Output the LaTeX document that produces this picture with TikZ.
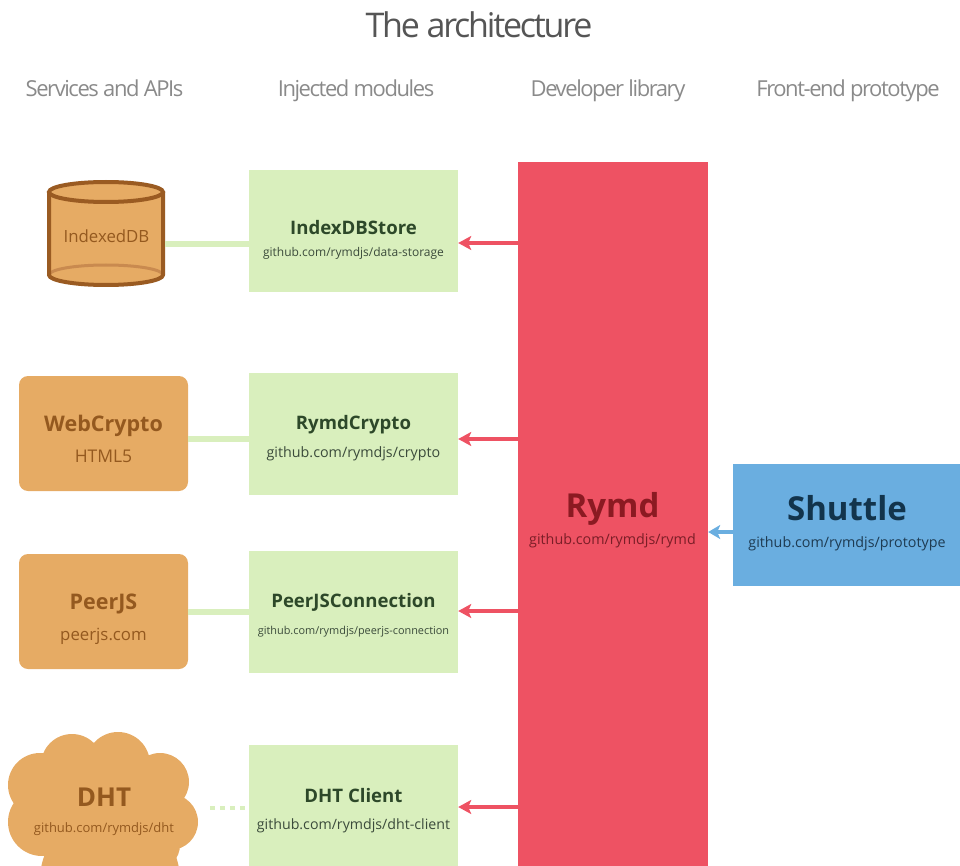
\documentclass[tikz,border=0pt]{standalone}
\usepackage{fontspec}
\setmainfont{Open Sans}
\newfontfamily\tightfont[LetterSpace=-6.5]{Open Sans}
\usetikzlibrary{arrows.meta}
\definecolor{titlegray}{HTML}{555555}
\definecolor{hdrgray}{HTML}{8A8A8A}
\definecolor{modfill}{HTML}{D9EFBD}
\definecolor{modtext}{HTML}{2D4829}
\definecolor{modsub}{HTML}{3B4B3B}
\definecolor{libfill}{HTML}{EE5263}
\definecolor{libtext}{HTML}{8B1A22}
\definecolor{libsub}{HTML}{7A1E27}
\definecolor{protofill}{HTML}{6AAEE0}
\definecolor{prototext}{HTML}{12344C}
\definecolor{protosub}{HTML}{1E3B52}
\definecolor{svcfill}{HTML}{E6AB64}
\definecolor{svctext}{HTML}{94591F}
\definecolor{cylstroke}{HTML}{9A5B22}
\definecolor{cylinner}{HTML}{C98A4F}
\tikzset{
  hdr/.style={font=\tightfont\fontsize{22}{26}\selectfont, text=hdrgray, anchor=base},
  modbox/.style={rectangle, fill=modfill, minimum width=209pt, inner sep=0pt},
  modtitle/.style={font=\bfseries\fontsize{18.6}{22}\selectfont, text=modtext, anchor=base},
  modsubt/.style={font=\fontsize{#1}{16}\selectfont, text=modsub, anchor=base},
  svcbox/.style={rectangle, rounded corners=9pt, fill=svcfill, minimum width=169pt, minimum height=115pt, inner sep=0pt},
  svctitle/.style={font=\bfseries\fontsize{21.5}{24}\selectfont, text=svctext, anchor=base},
  svcsub/.style={font=\fontsize{#1}{18}\selectfont, text=svctext, anchor=base},
  wire/.style={draw=modfill, line width=5.5pt},
  redarr/.style={draw=libfill, line width=4.5pt, -{Stealth[length=13pt,width=14pt,inset=3pt]}},
  bluearr/.style={draw=protofill, line width=4.5pt, -{Stealth[length=12pt,width=14pt,inset=3pt]}},
}
\begin{document}
\begin{tikzpicture}[x=1pt,y=-1pt]
\useasboundingbox (0,0) rectangle (960,866);
\clip (0,0) rectangle (960,866);

% title and headers
\node[font=\tightfont\fontsize{34}{40}\selectfont, text=titlegray, anchor=base] (title) at (479,38) {The architecture};
\node[hdr] (h1) at (104.5,97) {Services and APIs};
\node[hdr] (h2) at (356,97) {Injected modules};
\node[hdr] (h3) at (608,97) {Developer library};
\node[hdr] (h4) at (848,97) {Front-end prototype};

% developer library and prototype
\node[rectangle, fill=libfill, minimum width=190pt, minimum height=760pt, inner sep=0pt] (rymd) at (613,542) {};
\node[font=\bfseries\fontsize{33}{36}\selectfont, text=libtext, anchor=base] (rymdt) at (612.5,517) {Rymd};
\node[font=\fontsize{14.3}{16}\selectfont, text=libsub, anchor=base] (rymds) at (612.5,544) {github.com/rymdjs/rymd};

\node[rectangle, fill=protofill, minimum width=228pt, minimum height=122pt, inner sep=0pt] (shuttle) at (847,525) {};
\node[font=\bfseries\fontsize{33}{36}\selectfont, text=prototext, anchor=base] (shuttlet) at (847,520) {Shuttle};
\node[font=\fontsize{14.3}{16}\selectfont, text=protosub, anchor=base] (shuttles) at (847,547) {github.com/rymdjs/prototype};

% injected modules
\node[modbox, minimum height=122pt] (m1) at (353.5,231) {};
\node[modtitle] (m1t) at (353.5,235) {IndexDBStore};
\node[modsubt=12] (m1s) at (353.5,257) {github.com/rymdjs/data-storage};

\node[modbox, minimum height=122pt] (m2) at (353.5,434) {};
\node[modtitle] (m2t) at (353.5,429) {RymdCrypto};
\node[modsubt=14.3] (m2s) at (353.5,457) {github.com/rymdjs/crypto};

\node[modbox, minimum height=122pt] (m3) at (353.5,612) {};
\node[modtitle] (m3t) at (353.5,607) {PeerJSConnection};
\node[modsubt=10.9] (m3s) at (353.5,634) {github.com/rymdjs/peerjs-connection};

\node[modbox, minimum height=160pt] (m4) at (353.5,825) {};
\node[modtitle] (m4t) at (353.5,802) {DHT Client};
\node[modsubt=14.2] (m4s) at (353.5,829) {github.com/rymdjs/dht-client};

% services
% cylinder (IndexedDB)
\fill[svcfill] (49,192) -- (49,275) arc[start angle=180, end angle=360, x radius=57pt, y radius=10pt] -- (163,192) arc[start angle=0, end angle=180, x radius=57pt, y radius=10pt] -- cycle;
\draw[cylinner, line width=3pt] (49,275) arc[start angle=180, end angle=0, x radius=57pt, y radius=10pt];
\draw[cylstroke, line width=4pt, line join=round] (49,192) -- (49,275) arc[start angle=180, end angle=360, x radius=57pt, y radius=10pt] -- (163,192);
\draw[cylstroke, line width=4pt] (106,192) ellipse[x radius=57pt, y radius=10pt];
\node[font=\fontsize{16.8}{18}\selectfont, text=svctext, anchor=base] (idbt) at (106.5,243) {IndexedDB};

\node[svcbox] (wc) at (103.5,433.5) {};
\node[svctitle] (wct) at (103.5,431) {WebCrypto};
\node[svcsub=17.5] (wcs) at (103.5,462) {HTML5};

\node[svcbox] (pj) at (103.5,611.5) {};
\node[svctitle] (pjt) at (103.5,609) {PeerJS};
\node[svcsub=16.8] (pjs) at (103.5,640) {peerjs.com};

% DHT cloud (union of puffs)
\begin{scope}[svcfill]
  \fill (40,785) circle[radius=32pt];
  \fill (42,822) circle[radius=34pt];
  \fill (72,765) circle[radius=31pt];
  \fill (118,764) circle[radius=32pt];
  \fill (160,782) circle[radius=29pt];
  \fill (170,822) circle[radius=28pt];
  \fill (155,845) circle[radius=25pt];
  \fill (105,815) ellipse[x radius=80pt, y radius=58pt];
  \fill (110,880) circle[radius=70pt];
\end{scope}
\node[font=\bfseries\fontsize{26}{30}\selectfont, text=svctext, anchor=base] (dhtt) at (104,806) {DHT};
\node[svcsub=13] (dhts) at (104,832) {github.com/rymdjs/dht};

% wires
\coordinate (w1) at (0,244);
\coordinate (w2) at (0,439);
\coordinate (w3) at (0,612);
\coordinate (w4) at (0,808);
\coordinate (idbe) at (165,244);
\draw[wire] (idbe) -- (m1.west |- w1);
\draw[wire] (wc.east |- w2) -- (m2.west |- w2);
\draw[wire] (pj.east |- w3) -- (m3.west |- w3);
\coordinate (dhte) at (210,808);
\draw[modfill, line width=4pt, dash pattern=on 5pt off 5pt] (dhte) -- ([xshift=-2pt]m4.west |- w4);

% arrows
\coordinate (a1) at (0,243);
\coordinate (a2) at (0,439);
\coordinate (a3) at (0,611);
\coordinate (a4) at (0,807);
\draw[redarr] (rymd.west |- a1) -- (m1.east |- a1);
\draw[redarr] (rymd.west |- a2) -- (m2.east |- a2);
\draw[redarr] (rymd.west |- a3) -- (m3.east |- a3);
\draw[redarr] (rymd.west |- a4) -- (m4.east |- a4);
\coordinate (a5) at (0,532);
\draw[bluearr] (shuttle.west |- a5) -- (rymd.east |- a5);
\end{tikzpicture}
\end{document}
